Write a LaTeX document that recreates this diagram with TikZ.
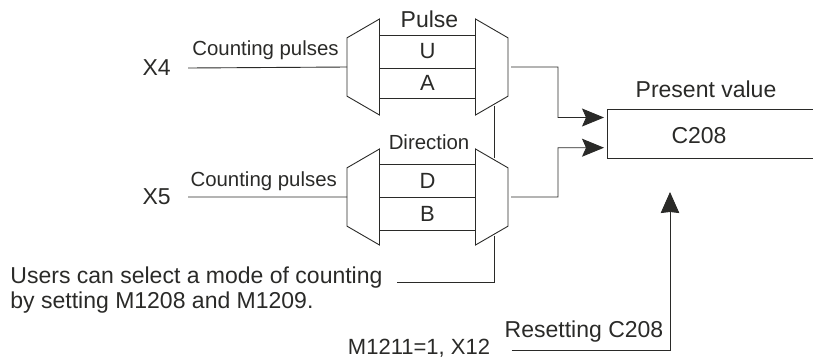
\documentclass[tikz,border=0pt]{standalone}
\usepackage{fontspec}
\setmainfont{Liberation Sans}
\usetikzlibrary{shapes.geometric, arrows.meta, positioning, calc}
\definecolor{lineink}{HTML}{2A2A28}
\begin{document}
\begin{tikzpicture}[x=1pt, y=-1pt, line width=0.9pt, text=lineink,
  selbox/.style={draw=lineink, trapezium, trapezium stretches, trapezium angle=73,
    minimum width=96pt, minimum height=32.5pt, inner sep=0pt, outer sep=0pt},
  cellbox/.style={draw=lineink, minimum width=96pt, inner sep=0pt, outer sep=0pt, font=\fontsize{22}{24}\selectfont},
  lbl/.style={inner sep=0pt, font=\fontsize{20.4}{24}\selectfont},
  biglbl/.style={inner sep=0pt, font=\fontsize{23}{26}\selectfont},
  sig/.style={draw=lineink},
  arrow/.style={draw=lineink, -{Stealth[length=22pt, width=18pt, inset=4pt]}},
  uparrow/.style={draw=lineink, -{Stealth[length=21pt, width=18.5pt, inset=1pt]}}]
  \useasboundingbox (0,0) rectangle (813,360);
  \clip (0,0) rectangle (813,360);
  % pulse channel
  \node[selbox, rotate=90] (selA) at (363.25,67) {\phantom{x}};
  \node[selbox, rotate=-90] (selB) at (491.75,67) {\phantom{x}};
  \node[cellbox, minimum height=33pt] (cellU) at (427.5,51.5) {U};
  \node[cellbox, minimum height=30.5pt] (cellA) at (427.5,83.25) {A};
  \node[biglbl] (pulse) at (429.5,19.5) {Pulse};
  % direction channel
  \node[selbox, rotate=90] (selC) at (363.25,197) {\phantom{x}};
  \node[selbox, rotate=-90] (selD) at (491.75,197) {\phantom{x}};
  \node[cellbox, minimum height=33pt] (cellD) at (427.5,180.5) {D};
  \node[cellbox, minimum height=33pt] (cellB) at (427.5,213.5) {B};
  \node[lbl] (dirn) at (429,142) {Direction};
  % inputs
  \node[biglbl] (xfour) at (156.7,68) {X4};
  \node[biglbl] (xfive) at (156.7,197) {X5};
  \node[lbl] (cntA) at (265.5,50) {Counting pulses};
  \node[lbl] (cntB) at (263.7,181) {Counting pulses};
  \draw[sig] ([xshift=17pt]xfour.east) -- (selA.north);
  \draw[sig] ([xshift=17pt]xfive.east) -- (selC.north);
  % counter
  \node[draw=lineink, minimum width=230pt, minimum height=49.5pt, inner sep=0pt, outer sep=0pt] (val) at (722,134) {};
  \node[biglbl] (cval) at (699,135.5) {C208};
  \node[biglbl] (pval) at (706,89) {Present value};
  \coordinate (inA) at (604,117.5);
  \coordinate (inB) at (604,147.7);
  \coordinate (inC) at (670,192);
  \draw[arrow] ([xshift=3pt]selB.north) -- (558,67) |- (inA);
  \draw[arrow] ([xshift=3pt]selD.north) -- (558,197) |- (inB);
  % mode select
  \node[biglbl, align=left, font=\fontsize{23}{25.5}\selectfont, anchor=north west] (mode) at (10,266) {Users can select a mode of counting\\by setting M1208 and M1209.};
  \coordinate (modeend) at (397,282);
  \draw[sig] ([xshift=3pt]selB.east) -- ([xshift=3pt]selD.west);
  \draw[sig] ([xshift=3pt]selD.east) |- (modeend);
  % reset
  \node[biglbl, font=\fontsize{22}{24}\selectfont] (mval) at (419,348.5) {M1211=1, X12};
  \node[biglbl] (rst) at (584,332) {Resetting C208};
  \coordinate (rstend) at (511.5,350);
  \draw[uparrow] (rstend) -| (inC);
\end{tikzpicture}
\end{document}
